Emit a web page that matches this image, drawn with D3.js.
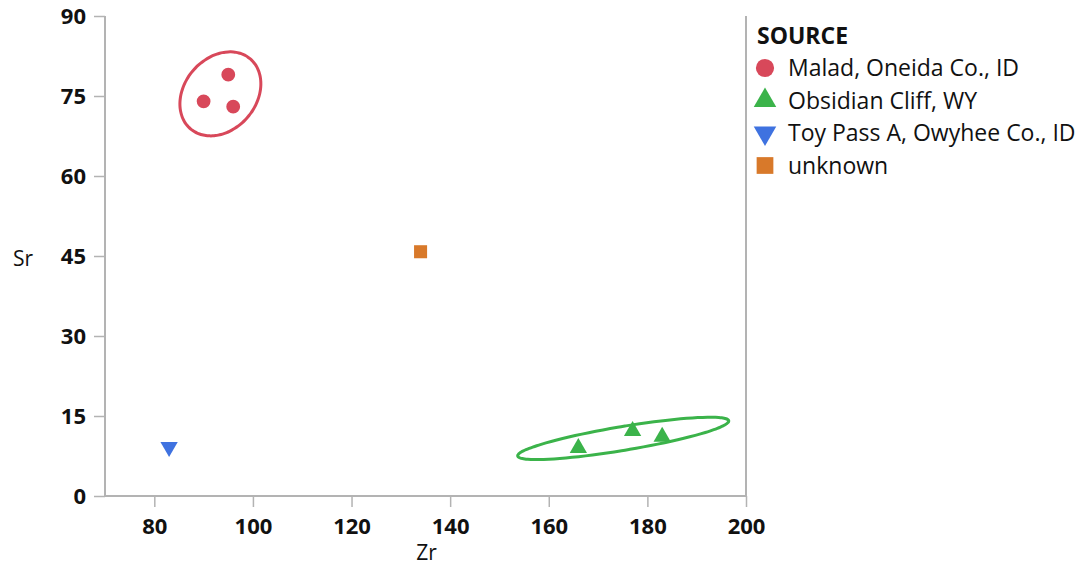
<!doctype html>
<html lang="en">
<head>
  <meta charset="utf-8">
  <script src="https://d3js.org/d3.v7.min.js"></script>
  <style>
    body { margin: 0; background: #fff; }
    text { font-family: "Open Sans", "Noto Sans", sans-serif; }
  </style>
</head>
<body>
  <script>
    var width = 1081,
        height = 567;

    // data
    var sources = ["Malad, Oneida Co., ID", "Obsidian Cliff, WY", "Toy Pass A, Owyhee Co., ID", "unknown"];
    var colors = ["#d8485a", "#3bb34a", "#3f72e0", "#d8792a"];
    var shapes = [d3.symbolCircle, d3.symbolTriangle, "down", d3.symbolSquare];

    var zr = [90, 95, 96, 166, 177, 183, 83, 134];
    var sr = [74, 79, 73, 9, 12.2, 11.1, 9.2, 45.8];
    var src = [0, 0, 0, 1, 1, 1, 2, 3];

    var xTicks = [80, 100, 120, 140, 160, 180, 200];
    var yTicks = [0, 15, 30, 45, 60, 75, 90];

    // ellipses: centre (Zr, Sr) and the two half-axis vectors, in data units
    var ellipseSource = [0, 1];
    var ellipseCentre = [[93.4, 75.4], [175.1, 10.8]];
    var ellipseMajor = [[6.0, 6.6], [21.4, 3.3]];
    var ellipseMinor = [[-5.6, 4.3], [-0.4, 2.2]];

    var margin = {left: 105, right: 335, top: 16, bottom: 71};

    var svg = d3.select("body").append("svg")
        .attr("width", width)
        .attr("height", height);

    var x = d3.scaleLinear().domain([70, 200]).range([margin.left, width - margin.right]);
    var y = d3.scaleLinear().domain([0, 90]).range([height - margin.bottom, margin.top]);

    var grey = "#b3b3b3";

    // x axis
    var gx = svg.append("g")
        .attr("transform", "translate(0," + y(0) + ")")
        .call(d3.axisBottom(x).tickValues(xTicks).tickSize(11).tickPadding(11));
    // y axis
    var gy = svg.append("g")
        .attr("transform", "translate(" + x(70) + ",0)")
        .call(d3.axisLeft(y).tickValues(yTicks).tickSize(11).tickPadding(8));

    [gx, gy].forEach(function(g) {
      g.select(".domain").attr("stroke", grey).attr("stroke-width", 2);
      g.selectAll(".tick line").attr("stroke", grey).attr("stroke-width", 1.5);
      g.selectAll(".tick text")
          .attr("fill", "#111")
          .style("font-family", "'Open Sans', sans-serif")
          .style("font-weight", "bold")
          .style("font-size", "22px");
    });
    gx.select(".domain").attr("d", "M" + x(70) + ",0H" + x(200));
    gy.select(".domain").attr("d", "M0," + y(0) + "V" + y(90));

    // right frame line
    svg.append("line")
        .attr("x1", x(200)).attr("x2", x(200))
        .attr("y1", y(0)).attr("y2", y(90))
        .attr("stroke", grey).attr("stroke-width", 2);

    // axis titles
    svg.append("text")
        .attr("x", (x(70) + x(200)) / 2 + 1)
        .attr("y", 560)
        .attr("text-anchor", "middle")
        .style("font-size", "21px")
        .attr("fill", "#111")
        .text("Zr");
    svg.append("text")
        .attr("x", 13)
        .attr("y", 266)
        .style("font-size", "21px")
        .attr("fill", "#111")
        .text("Sr");

    // ellipses
    ellipseSource.forEach(function(s, i) {
      var c = ellipseCentre[i], a = ellipseMajor[i], b = ellipseMinor[i];
      var pts = d3.range(0, 360, 4).map(function(deg) {
        var t = deg * Math.PI / 180;
        return [x(c[0] + a[0] * Math.cos(t) + b[0] * Math.sin(t)),
                y(c[1] + a[1] * Math.cos(t) + b[1] * Math.sin(t))];
      });
      svg.append("path")
          .attr("d", d3.line().curve(d3.curveCardinalClosed)(pts))
          .attr("fill", "none")
          .attr("stroke", colors[s])
          .attr("stroke-width", 3);
    });

    function symbolPath(k, size) {
      if (shapes[k] === "down") return d3.symbol().type(d3.symbolTriangle).size(size)();
      return d3.symbol().type(shapes[k]).size(size)();
    }
    var markSize = [150, 130, 130, 170];

    // points
    svg.selectAll("path.pt")
        .data(zr)
      .enter().append("path")
        .attr("class", "pt")
        .attr("d", function(d, i) { return symbolPath(src[i], markSize[src[i]]); })
        .attr("transform", function(d, i) {
          return "translate(" + x(d) + "," + y(sr[i]) + ")" + (shapes[src[i]] === "down" ? " rotate(180)" : "");
        })
        .attr("fill", function(d, i) { return colors[src[i]]; });

    // legend
    var legend = svg.append("g").attr("transform", "translate(757,0)");
    legend.append("text")
        .attr("x", 0).attr("y", 44)
        .style("font-size", "23px")
        .style("font-weight", "bold")
        .attr("fill", "#111")
        .text("SOURCE");
    var legendSize = [260, 220, 220, 280];
    var item = legend.selectAll("g.item")
        .data(sources)
      .enter().append("g")
        .attr("class", "item")
        .attr("transform", function(d, i) { return "translate(0," + (68 + i * 32.5) + ")"; });
    item.append("path")
        .attr("d", function(d, i) { return symbolPath(i, legendSize[i]); })
        .attr("transform", function(d, i) { return "translate(8,0)" + (shapes[i] === "down" ? " rotate(180)" : ""); })
        .attr("fill", function(d, i) { return colors[i]; });
    item.append("text")
        .attr("x", 31).attr("y", 8)
        .style("font-size", "23px")
        .attr("fill", "#111")
        .text(function(d) { return d; });
  </script>
</body>
</html>
